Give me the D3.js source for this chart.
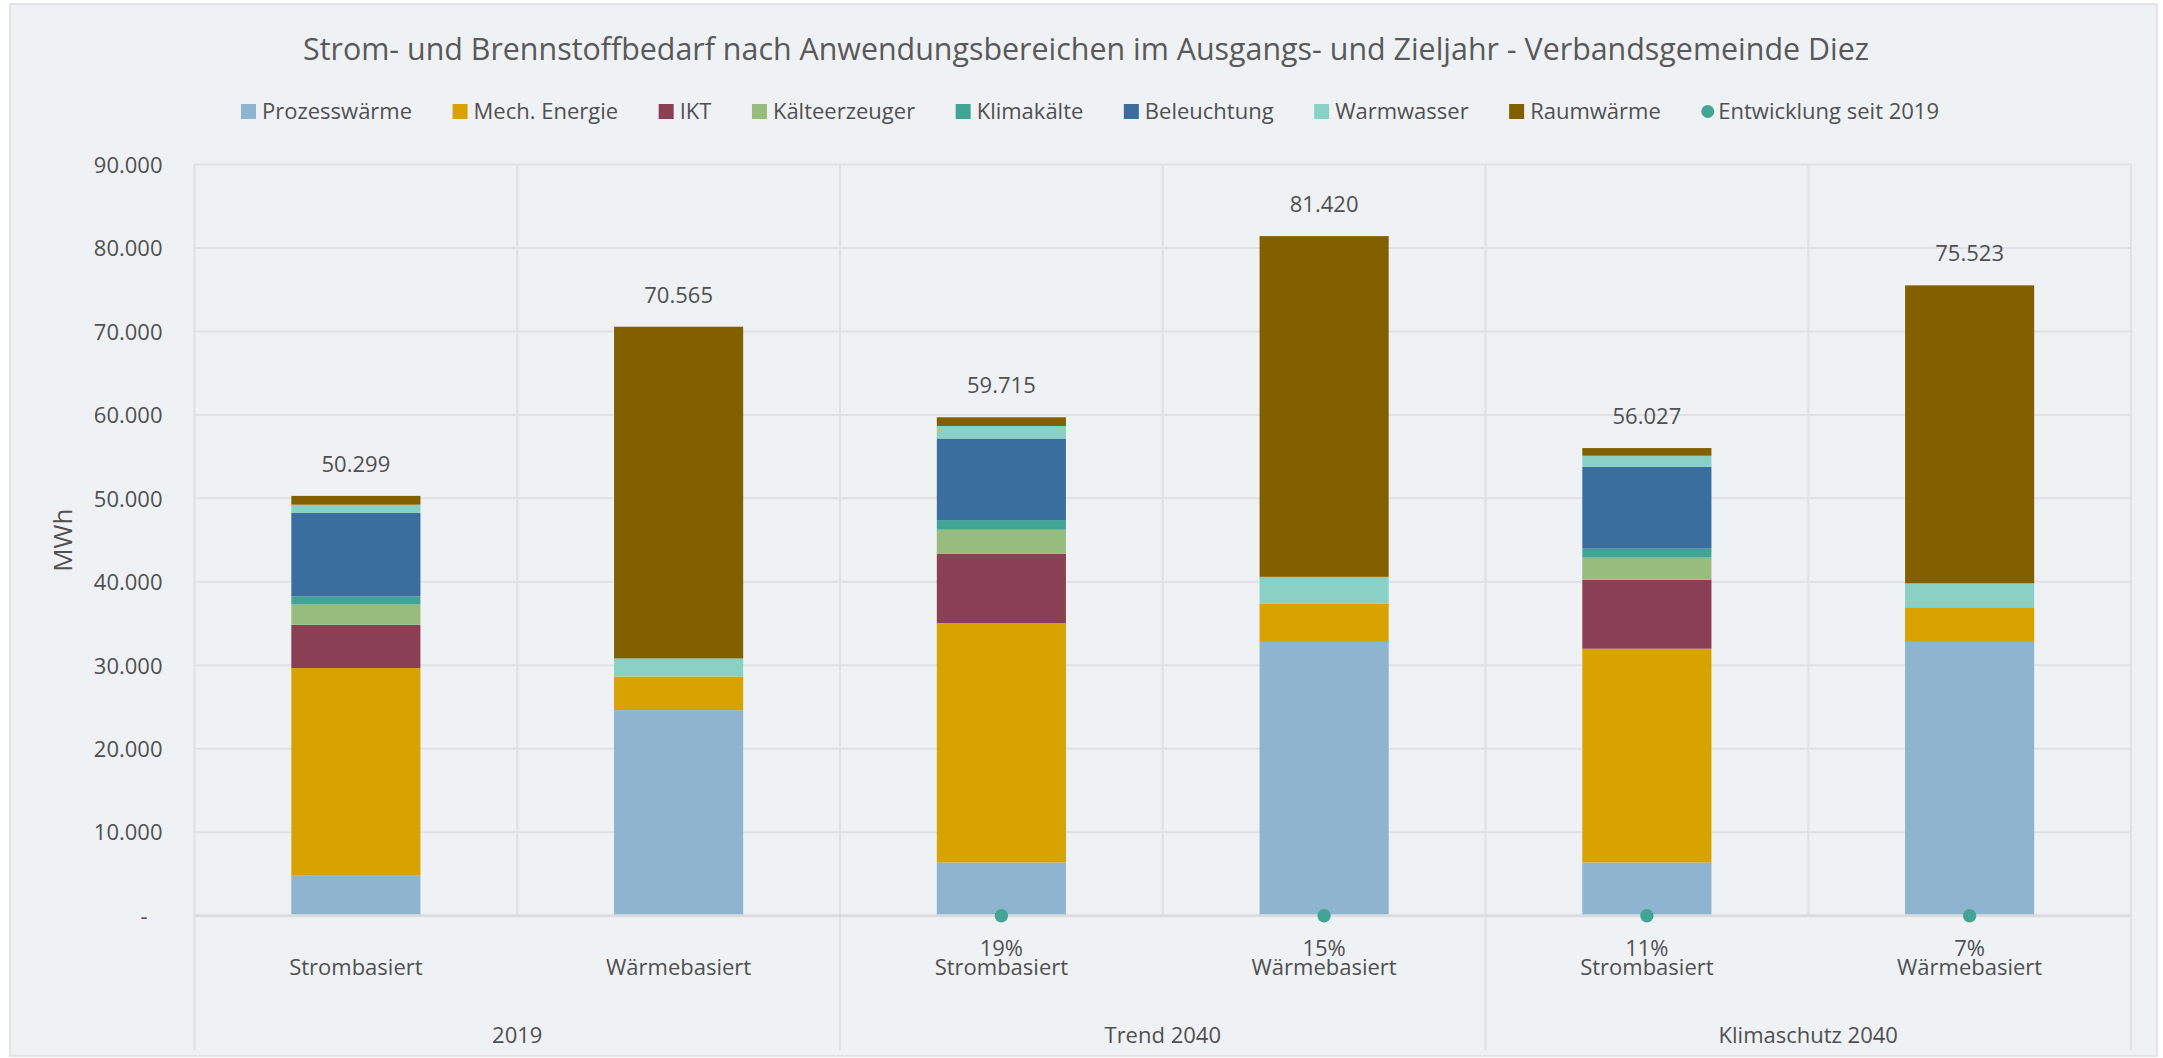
<!DOCTYPE html>
<html>
<head>
<meta charset="utf-8">
<script src="https://cdn.jsdelivr.net/npm/d3@7"></script>
<style>
  body { margin: 0; background: #fff; }
  svg text { font-family: "Open Sans", "Noto Sans", sans-serif; fill: #505050; }
</style>
</head>
<body>
<script>
// categories / groups
var categories = ["Strombasiert", "Wärmebasiert", "Strombasiert", "Wärmebasiert", "Strombasiert", "Wärmebasiert"];
var groups = ["2019", "Trend 2040", "Klimaschutz 2040"];

// series values in MWh, one per category
var prozesswaerme  = [4800, 24630, 6380, 32800, 6380, 32800];
var mechEnergie    = [24865, 4030, 28690, 4590, 25610, 4150];
var ikt            = [5190, 0, 8310, 0, 8260, 0];
var kaelteerzeuger = [2430, 0, 2870, 0, 2650, 0];
var klimakaelte    = [960, 0, 1150, 0, 1080, 0];
var beleuchtung    = [10040, 0, 9770, 0, 9810, 0];
var warmwasser     = [960, 2160, 1500, 3210, 1320, 2870];
var raumwaerme     = [1054, 39745, 1045, 40820, 917, 35703];

// Entwicklung seit 2019 (shown as dot + label on the baseline)
var entwicklung = [null, null, "19%", "15%", "11%", "7%"];

var yTicks = [0, 10000, 20000, 30000, 40000, 50000, 60000, 70000, 80000, 90000];

var seriesNames = ["Prozesswärme", "Mech. Energie", "IKT", "Kälteerzeuger", "Klimakälte", "Beleuchtung", "Warmwasser", "Raumwärme"];
var seriesValues = [prozesswaerme, mechEnergie, ikt, kaelteerzeuger, klimakaelte, beleuchtung, warmwasser, raumwaerme];
var colors = ["#8EB4CF", "#D8A200", "#8A3F55", "#98BB7E", "#42A495", "#3A6E9F", "#88D1C4", "#826000"];
var dotColor = "#42A495";

var W = 2163, H = 1058;
var plot = { left: 194.5, right: 2131, top: 164.5, bottom: 915.7 };

var de = d3.formatLocale({ decimal: ",", thousands: ".", grouping: [3], currency: ["", " €"] });
var fmt = de.format(",.0f");

var table = categories.map(function(c, i) {
  var row = { idx: i, name: c };
  seriesNames.forEach(function(s, j) { row[s] = seriesValues[j][i]; });
  return row;
});
var stacked = d3.stack().keys(seriesNames)(table);

var x = d3.scaleBand()
  .domain(d3.range(categories.length))
  .range([plot.left, plot.right])
  .paddingInner(0.6)
  .paddingOuter(0.3);
var step = x.step();

var y = d3.scaleLinear()
  .domain([0, 90000])
  .range([plot.bottom, plot.top]);

var svg = d3.select("body").append("svg")
  .attr("width", W)
  .attr("height", H);

// chart frame
svg.append("rect")
  .attr("x", 10).attr("y", 4)
  .attr("width", 2147).attr("height", 1052)
  .attr("fill", "#EFF2F5")
  .attr("stroke", "#DCDDE2")
  .attr("stroke-width", 1.5);

// title
svg.append("text")
  .attr("x", 1086).attr("y", 60)
  .attr("text-anchor", "middle")
  .style("font-size", "30.4px")
  .style("fill", "#595959")
  .text("Strom- und Brennstoffbedarf nach Anwendungsbereichen im Ausgangs- und Zieljahr - Verbandsgemeinde Diez");

// horizontal gridlines
svg.append("g")
  .selectAll("line")
  .data(yTicks.filter(function(d) { return d > 0; }))
  .enter().append("line")
  .attr("x1", plot.left).attr("x2", plot.right)
  .attr("y1", function(d) { return y(d); })
  .attr("y2", function(d) { return y(d); })
  .attr("stroke", "#DFE1E4")
  .attr("stroke-width", 2);

// vertical separators: between categories inside the plot, group borders down to the group labels
var seps = d3.range(categories.length + 1);
svg.append("g")
  .selectAll("line")
  .data(seps)
  .enter().append("line")
  .attr("x1", function(d) { return plot.left + d * step; })
  .attr("x2", function(d) { return plot.left + d * step; })
  .attr("y1", plot.top)
  .attr("y2", function(d) { return d % 2 === 0 ? 1050 : plot.bottom; })
  .attr("stroke", "#DFE1E4")
  .attr("stroke-width", 2);

// y axis (labels only)
var yAxis = d3.axisLeft(y)
  .tickValues(yTicks)
  .tickSize(0)
  .tickPadding(32)
  .tickFormat(function(d) { return d === 0 ? "-" : fmt(d); });

var ya = svg.append("g")
  .attr("transform", "translate(" + plot.left + ",0)")
  .call(yAxis);
ya.select(".domain").remove();
ya.selectAll("text")
  .style("font-size", "22px")
  .attr("dy", "0.35em");
ya.selectAll(".tick").filter(function(d) { return d === 0; })
  .select("text").attr("x", -47);

// y axis title
svg.append("text")
  .attr("transform", "translate(72," + ((plot.top + plot.bottom) / 2) + ") rotate(-90)")
  .attr("text-anchor", "middle")
  .style("font-size", "26px")
  .text("MWh");

// stacked bars
svg.append("g")
  .selectAll("g")
  .data(stacked)
  .enter().append("g")
  .attr("fill", function(d, i) { return colors[i]; })
  .selectAll("rect")
  .data(function(d) { return d; })
  .enter().append("rect")
  .attr("x", function(d) { return x(d.data.idx); })
  .attr("width", x.bandwidth())
  .attr("y", function(d) { return y(d[1]); })
  .attr("height", function(d) { return y(d[0]) - y(d[1]); });

// baseline
svg.append("line")
  .attr("x1", plot.left).attr("x2", plot.right)
  .attr("y1", y(0)).attr("y2", y(0))
  .attr("stroke", "#DADCDF")
  .attr("stroke-width", 3);

// totals above bars
svg.append("g")
  .selectAll("text")
  .data(table)
  .enter().append("text")
  .attr("x", function(d) { return x(d.idx) + x.bandwidth() / 2; })
  .attr("y", function(d) { return y(d3.sum(seriesNames, function(s) { return d[s]; })) - 24; })
  .attr("text-anchor", "middle")
  .style("font-size", "22px")
  .text(function(d) { return fmt(d3.sum(seriesNames, function(s) { return d[s]; })); });

// Entwicklung dots + labels
var dev = categories.map(function(c, i) { return { idx: i, v: entwicklung[i] }; })
  .filter(function(d) { return d.v !== null; });

svg.append("g")
  .selectAll("circle")
  .data(dev)
  .enter().append("circle")
  .attr("cx", function(d) { return x(d.idx) + x.bandwidth() / 2; })
  .attr("cy", y(0))
  .attr("r", 6.7)
  .attr("fill", dotColor);

svg.append("g")
  .selectAll("text")
  .data(dev)
  .enter().append("text")
  .attr("x", function(d) { return x(d.idx) + x.bandwidth() / 2; })
  .attr("y", 955.5)
  .attr("text-anchor", "middle")
  .style("font-size", "22px")
  .text(function(d) { return d.v; });

// category labels
svg.append("g")
  .selectAll("text")
  .data(categories)
  .enter().append("text")
  .attr("x", function(d, i) { return x(i) + x.bandwidth() / 2; })
  .attr("y", 975)
  .attr("text-anchor", "middle")
  .style("font-size", "22px")
  .text(function(d) { return d; });

// group labels
svg.append("g")
  .selectAll("text")
  .data(groups)
  .enter().append("text")
  .attr("x", function(d, i) { return plot.left + (i * 2 + 1) * step; })
  .attr("y", 1042.5)
  .attr("text-anchor", "middle")
  .style("font-size", "22px")
  .text(function(d) { return d; });

// legend
var legendItems = seriesNames.map(function(s, i) { return { name: s, color: colors[i], dot: false }; });
legendItems.push({ name: "Entwicklung seit 2019", color: dotColor, dot: true });

var gap = 40.5;
var legend = svg.append("g");
var lx = 0;
legendItems.forEach(function(it) {
  var g = legend.append("g").attr("transform", "translate(" + lx + ",0)");
  if (it.dot) {
    g.append("circle").attr("cx", 6.5).attr("cy", 111.5).attr("r", 6.5).attr("fill", it.color);
  } else {
    g.append("rect").attr("x", 0).attr("y", 104).attr("width", 15).attr("height", 15).attr("fill", it.color);
  }
  var t = g.append("text")
    .attr("x", it.dot ? 17 : 21)
    .attr("y", 119.3)
    .style("font-size", "22px")
    .text(it.name);
  lx += (it.dot ? 17 : 21) + t.node().getComputedTextLength() + gap;
});
var legendWidth = lx - gap;
legend.attr("transform", "translate(" + (1090 - legendWidth / 2) + ",0)");
</script>
</body>
</html>
